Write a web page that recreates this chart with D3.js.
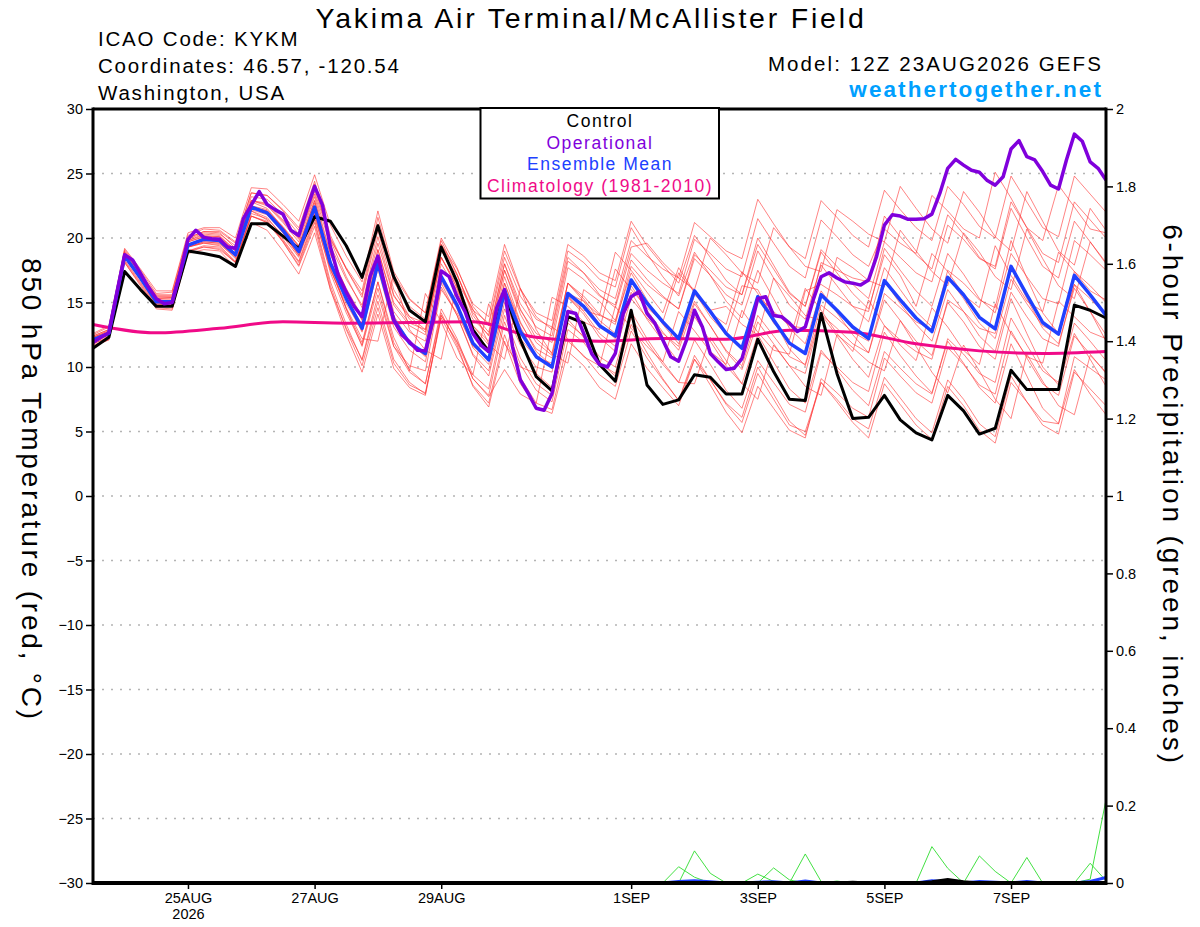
<!DOCTYPE html>
<html>
<head>
<meta charset="utf-8">
<script src="https://cdn.jsdelivr.net/npm/d3@7"></script>
<style>
body { margin: 0; background: #fff; }
text { font-family: "Liberation Sans", Arial, Helvetica, sans-serif; }
</style>
</head>
<body>
<div id="chart"></div>
<script>
const width = 1200
const height = 927
const plot = { left: 93, right: 1106, top: 109, bottom: 883 }

// forecast grid: 12Z 23AUG2026, 6-hourly (ensemble) and 3-hourly (operational)
const runStart = Date.UTC(2026, 7, 23, 12)
const runEnd = Date.UTC(2026, 8, 8, 12)

const xTickDates = ["2026-08-25", "2026-08-27", "2026-08-29", "2026-09-01", "2026-09-03", "2026-09-05", "2026-09-07"]
const xTickLabels = ["25AUG", "27AUG", "29AUG", "1SEP", "3SEP", "5SEP", "7SEP"]
const tempTicks = [-30, -25, -20, -15, -10, -5, 0, 5, 10, 15, 20, 25, 30]
const gridTicks = [-25, -20, -15, -10, -5, 0, 5, 10, 15, 20, 25]
const precipTicks = [0, 0.2, 0.4, 0.6, 0.8, 1, 1.2, 1.4, 1.6, 1.8, 2]
const precipTickLabels = ["0", "0.2", "0.4", "0.6", "0.8", "1", "1.2", "1.4", "1.6", "1.8", "2"]

const control = [11.45,12.3,17.4,16.0,14.7,14.7,19.0,18.8,18.55,17.8, 21.1,21.1,20.15,19.2,21.65,21.3,19.4,16.95,20.95,17.0, 14.4,13.5,19.3,16.6,12.9,11.2,15.85,12.1,9.25,8.15, 13.9,13.4,10.2,8.9,14.4,8.6,7.1,7.45,9.4,9.2, 7.9,7.9,12.15,9.65,7.5,7.4,14.15,9.5,6.0,6.1, 7.8,5.9,4.9,4.35,7.8,6.6,4.8,5.25,9.75,8.25, 8.25,8.25,14.8,14.4,13.8]

const ensembleMean = [12.1,12.6,18.6,16.9,15.05,15.05,19.45,19.9,19.8,18.7, 22.4,21.95,20.6,18.95,22.4,18.05,15.3,13.0,18.05,13.65, 11.85,11.05,17.0,14.8,11.85,10.55,15.95,12.75,10.8,10.0, 15.7,14.7,13.2,12.4,16.75,14.95,13.5,12.2,15.9,14.3, 12.6,11.45,15.45,13.65,11.85,11.05,15.6,14.4,13.1,12.2, 16.7,15.2,13.8,12.75,16.95,15.6,13.85,12.95,17.8,15.6, 13.45,12.55,17.1,15.6,14.0]

// operational run, 3-hourly
const operational = [11.9,12.3,12.65,15.7,18.7,18.3,17.25,16.2,15.3,14.9, 15.0,17.25,19.9,20.6,20.05,19.95,19.9,19.3,19.2,21.5, 22.55,23.6,22.6,22.2,21.85,20.6,20.2,22.2,24.0,22.55, 19.3,17.1,15.8,14.7,13.9,17.0,18.6,16.0,13.65,12.5, 11.95,11.3,11.25,13.65,17.45,17.0,15.45,14.3,12.6,11.7, 11.2,14.55,16.0,11.6,9.0,7.95,6.8,6.65,7.95,11.3, 14.3,14.15,12.6,11.05,10.2,10.0,11.05,14.15,15.45,15.85, 14.15,13.4,12.1,10.8,10.45,12.1,14.4,13.1,11.05,10.4, 9.8,9.9,10.65,12.85,15.3,15.45,14.0,13.9,13.4,12.75, 13.1,15.2,17.0,17.3,16.9,16.6,16.5,16.35,16.75,18.55, 21.0,21.8,21.7,21.45,21.45,21.5,21.85,23.45,25.4,26.1, 25.65,25.25,25.1,24.45,24.1,24.75,26.9,27.55,26.3,26.05, 25.15,24.1,23.8,26.05,28.05,27.5,25.9,25.4,24.5]

// climatology, daily at 12Z
const climatology = [13.3,12.65,13.0,13.5,13.4,13.45,13.5,12.3,12.0,12.2,12.15,12.85,12.7,11.8,11.25,11.05,11.2]

const member01 = [12.3,12.8,18.9,17.2,15.5,15.5,19.9,20.4,20.3,19.4, 23.2,23.0,21.8,20.3,23.9,20.0,17.6,15.6,21.1,16.6, 14.7,13.7,19.5,17.2,14.2,12.7,18.0,14.9,13.1,12.4, 18.2,17.3,16.0,15.3,19.8,18.6,17.6,16.9,21.2,20.1, 19.0,18.4,23.0,21.1,19.3,18.4,22.9,21.6,20.2,19.3, 23.7,22.2,20.8,19.8,24.0,22.6,20.9,20.0,24.8,22.8, 20.8,20.1,24.8,23.4,22.0]
const member02 = [11.8,12.3,18.2,16.5,14.7,14.7,19.0,19.4,19.3,18.1, 21.7,21.2,19.8,18.1,21.4,16.6,13.3,10.5,15.1,10.6, 8.8,7.9,13.8,11.5,8.6,7.2,12.5,9.2,7.2,6.7, 12.0,10.9,9.4,8.5,12.8,10.7,9.0,7.4,10.9,9.0, 7.1,5.7,9.5,7.5,5.5,5.0,8.8,7.5,6.0,5.2, 9.2,7.6,6.0,4.9,9.0,7.5,5.6,4.6,9.3,7.3, 5.5,4.8,9.6,8.3,7.0]
const member03 = [12.6,13.2,19.2,17.6,15.9,15.9,20.4,20.8,20.8,20.0, 23.9,23.8,22.6,21.3,24.9,21.0,18.6,16.6,22.1,17.4, 15.3,14.2,19.8,17.2,14.0,12.4,17.5,14.4,12.6,11.9, 17.7,16.8,15.5,14.8,19.3,19.6,18.1,16.9,16.0,20.0, 18.7,17.3,16.5,20.8,19.3,17.8,17.4,22.2,21.3,20.3, 19.7,24.0,22.3,20.7,19.6,23.6,22.0,20.1,19.0,23.6, 21.3,19.0,17.9,22.3,20.6]
const member04 = [11.9,12.5,18.5,16.9,15.2,15.2,19.7,20.1,20.1,18.7, 22.1,21.4,19.7,17.8,20.9,16.0,12.5,9.6,14.1,9.9, 8.4,7.8,14.0,12.0,9.4,8.3,14.0,10.7,8.7,7.8, 13.4,12.4,10.8,10.0,14.3,12.2,10.4,8.8,12.1,10.2, 8.2,6.8,10.5,8.8,7.1,6.5,11.1,10.0,8.8,8.1, 12.7,10.9,9.3,8.0,12.0,10.3,8.4,7.2,11.8,9.3, 6.8,5.6,9.8,7.9,6.3]
const member05 = [12.1,12.6,18.5,16.8,14.9,14.9,19.3,19.6,19.5,18.5, 22.4,22.1,20.8,19.4,22.9,18.7,16.1,13.9,19.1,15.0, 13.4,12.9,19.0,17.1,14.4,13.4,19.0,16.0,14.2,13.6, 19.5,18.6,17.3,16.7,21.3,19.4,17.9,16.5,20.2,18.5, 16.7,15.6,19.5,17.6,15.7,14.7,19.1,17.8,16.4,15.3, 19.7,18.5,17.3,16.6,21.0,19.9,18.4,17.8,22.8,20.8, 18.8,18.1,22.8,21.4,20.0]
const member06 = [12.4,12.9,19.0,17.3,15.6,15.6,20.0,20.5,20.4,19.2, 22.8,22.3,20.8,19.1,22.4,17.7,14.5,11.9,16.6,12.3, 9.7,15.7,13.5,10.7,9.4,14.9,11.8,10.0,9.5,15.4, 14.7,13.5,12.9,17.6,16.0,14.6,13.5,17.3,15.8,14.2, 13.3,17.4,15.7,13.4,12.1,16.1,14.4,12.6,11.2,15.2, 13.2,11.7,10.5,14.6,13.1,11.3,10.2,14.9,12.6,10.8, 10.3,15.1,13.9,12.7,12.2]
const member07 = [11.7,12.1,18.1,16.3,14.5,14.4,18.8,19.1,19.0,17.7, 21.2,20.6,19.0,17.2,20.4,16.0,13.0,10.6,15.6,11.6, 10.1,9.7,16.0,14.2,11.6,10.7,16.5,13.1,10.9,9.9, 15.4,14.3,12.6,11.6,15.8,13.7,12.0,10.4,13.9,12.0, 10.1,8.7,12.5,10.4,8.3,7.2,11.3,9.8,8.2,7.0, 11.2,9.9,8.7,7.9,12.2,11.0,9.5,8.8,13.8,11.7, 9.7,8.8,13.4,12.0,10.5]
const member08 = [12.2,12.7,18.7,17.0,15.3,15.3,19.7,20.1,20.0,19.0, 22.9,22.6,21.3,19.9,23.4,19.4,16.8,14.8,20.1,15.6, 13.7,12.7,18.5,16.2,13.2,11.7,17.0,13.5,11.2,10.1, 15.4,14.1,12.3,11.2,15.3,13.8,12.6,11.6,15.6,14.4, 14.7,13.3,12.5,16.9,15.5,14.0,13.6,18.5,17.7,16.7, 16.2,20.6,19.0,17.4,16.3,20.4,18.9,17.0,16.0,20.7, 18.4,16.3,15.3,19.7,18.1]
const member09 = [12.1,12.6,18.7,17.1,15.3,15.4,19.8,20.3,20.2,19.0, 22.5,22.0,20.4,18.6,21.9,17.8,15.3,13.3,18.6,14.0, 11.9,10.8,16.5,14.0,10.9,9.3,14.5,11.7,10.0,9.6, 15.7,15.1,14.0,13.5,18.3,16.8,15.5,14.5,18.4,17.1, 15.6,14.8,19.0,16.9,14.8,13.7,17.9,16.3,14.7,13.5, 17.7,16.0,14.3,13.1,17.0,15.3,13.4,12.2,16.8,14.9, 13.2,12.6,17.4,16.3,15.0]
const member10 = [12.0,12.5,18.5,16.8,14.9,14.9,19.3,19.7,19.6,18.6, 22.4,22.1,20.9,19.4,22.9,18.0,14.5,11.6,16.1,11.6, 9.6,8.7,14.5,12.2,9.1,7.7,9.8,7.9,7.2,13.1, 12.2,10.8,10.1,14.7,13.0,11.6,10.4,14.3,12.8,11.2, 10.2,14.4,12.7,11.3,11.0,15.9,16.4,15.6,14.7,14.3, 19.2,17.5,15.9,14.7,18.8,17.2,15.3,14.2,18.8,17.0, 15.3,14.9,19.8,18.7,17.5]
const member11 = [12.5,13.1,19.1,17.5,15.7,15.8,20.2,20.7,20.6,19.7, 23.5,23.3,22.1,20.6,24.2,19.8,17.0,14.6,19.6,15.5, 13.9,13.4,19.5,17.6,14.9,13.9,19.5,16.1,13.9,12.9, 18.5,17.3,15.6,14.6,18.8,17.5,16.5,15.7,19.9,18.8, 17.6,17.0,21.5,19.6,17.8,16.9,21.4,20.1,18.7,17.8, 20.7,19.6,18.8,23.3,22.1,20.7,20.0,25.1,23.1,20.8, 19.8,24.1,22.4,20.7,20.4]
const member12 = [11.6,12.1,18.1,16.4,14.6,14.5,18.9,19.3,19.2,18.1, 21.7,21.3,19.9,18.2,21.6,17.5,14.9,12.8,18.1,13.6, 11.8,10.9,16.7,14.5,11.5,10.2,15.5,11.9,9.5,8.4, 13.7,12.3,10.4,9.3,13.3,11.1,9.1,7.4,10.6,8.6, 6.5,4.9,8.5,6.8,5.1,4.5,9.1,8.0,6.8,6.1, 10.7,9.3,8.0,7.2,11.5,10.2,8.6,7.9,12.8,10.7, 8.7,7.8,12.4,11.0,9.5]
const member13 = [12.3,12.8,18.7,17.0,15.2,15.1,19.5,19.8,19.7,18.6, 22.2,21.8,20.4,18.7,22.1,17.6,14.6,12.2,12.0,17.2, 12.9,11.3,10.6,16.6,14.5,11.8,10.6,16.1,12.9,11.0, 10.3,16.0,15.1,13.6,17.3,15.2,13.3,11.8,15.1,13.2, 11.2,9.8,13.5,11.8,10.1,9.5,14.1,13.0,11.8,11.1, 15.7,14.6,13.5,12.9,17.5,16.5,15.2,14.6,19.8,16.9, 14.2,12.6,16.4,14.3,12.0]
const member14 = [11.9,12.4,18.5,16.8,15.0,15.1,19.5,20.0,19.9,19.0, 22.9,22.7,21.4,20.0,23.6,19.9,17.7,15.9,21.6,17.1, 15.2,14.2,20.0,17.7,14.7,13.2,18.5,15.5,13.7,13.1, 19.0,18.1,16.8,16.2,20.8,18.8,17.0,15.5,18.9,17.1, 15.1,13.8,17.5,15.3,13.0,11.8,15.9,14.2,12.5,11.1, 15.2,13.6,12.0,10.9,15.0,13.5,11.6,10.6,15.3,12.6, 10.0,8.6,12.6,10.6,8.5]
const member15 = [12.2,12.6,18.6,16.8,15.0,14.9,19.3,19.6,19.4,18.2, 21.7,21.2,19.7,17.9,21.2,16.3,12.9,10.1,14.6,10.3, 8.6,8.0,14.0,11.9,9.1,7.8,13.5,10.2,8.2,7.3, 12.9,11.9,10.3,9.5,13.8,11.9,10.2,8.8,8.7,12.3, 10.5,8.7,7.5,11.7,10.1,8.5,7.8,12.5,11.5,10.4, 9.7,13.6,11.6,9.6,8.0,11.7,9.7,7.5,6.0,11.0, 8.9,7.0,6.3,10.9,9.6]
const member16 = [12.4,12.9,18.9,17.2,15.4,15.4,19.8,20.2,20.1,19.1, 22.9,22.5,21.2,19.7,23.2,18.8,16.0,13.6,18.6,14.3, 12.7,12.0,18.0,15.9,13.2,12.0,17.5,14.1,11.9,10.9, 16.5,15.3,13.6,12.6,16.8,15.0,13.5,12.2,15.9,14.3, 12.6,11.5,15.5,14.3,13.2,13.0,18.1,17.5,16.9,16.6, 21.7,20.1,18.7,17.6,21.8,20.3,18.5,17.6,22.3,20.0, 17.8,16.9,21.3,19.7,18.0]
const member17 = [11.8,12.3,18.3,16.6,14.8,14.9,19.3,19.7,19.6,18.4, 22.1,21.6,20.1,18.5,21.8,17.3,14.2,11.7,16.6,11.9, 9.8,8.7,14.2,11.7,8.5,6.9,12.0,8.7,6.9,6.4, 11.2,10.1,8.4,7.5,11.8,9.9,8.4,7.0,10.6,9.0, 7.2,6.1,10.0,7.9,5.8,4.7,8.8,7.3,5.7,4.5, 8.7,7.1,5.5,4.4,8.5,7.0,5.1,4.1,8.8,7.3, 5.8,5.6,10.8,9.9,9.0]
const member18 = [12.1,12.7,18.8,17.2,15.5,15.5,20.0,20.5,20.5,19.6, 23.5,23.3,22.2,20.8,24.4,20.2,17.6,15.4,20.6,16.0, 13.9,12.9,18.5,16.1,12.9,11.4,16.5,13.4,11.4,10.7, 16.5,15.5,14.1,13.3,17.8,16.4,15.4,14.5,18.7,17.5, 16.2,15.6,20.0,17.9,15.8,14.7,18.9,17.3,15.7,14.5, 18.7,17.1,14.7,18.8,17.4,15.6,14.6,19.4,17.1,15.1, 14.3,18.9,17.4,15.9,15.2]
const member19 = [12.3,12.7,18.6,16.8,14.8,14.7,19.0,19.3,19.1,18.1, 21.9,21.5,20.2,18.7,22.2,18.2,15.7,13.7,19.1,14.8, 13.2,12.5,18.5,16.4,13.7,12.5,18.0,14.5,12.2,11.1, 16.5,15.1,13.3,12.2,16.3,14.4,12.7,11.3,14.9,13.2, 11.3,10.1,14.0,12.4,10.8,10.2,14.8,13.8,12.7,12.0, 16.7,14.9,13.3,12.0,16.0,14.3,12.4,11.2,15.8,13.9, 12.2,11.6,16.4,15.3,14.0]
const member20 = [12.0,12.5,18.5,16.9,15.1,15.1,19.5,19.9,19.8,18.8, 22.5,22.2,20.8,19.3,22.7,18.2,15.2,12.7,17.6,13.1, 11.3,10.4,16.2,14.0,11.0,9.7,15.0,12.2,10.7,10.3, 15.5,14.4,14.0,18.9,17.5,15.8,14.2,17.7,15.8,13.9, 12.5,16.3,16.0,13.7,11.4,10.1,14.1,12.4,10.6,9.2, 13.2,12.1,11.2,10.6,15.2,14.3,13.0,12.6,17.8,15.3, 13.0,11.8,16.1,14.3,12.5]
const members = [member01, member02, member03, member04, member05, member06, member07, member08, member09, member10,
    member11, member12, member13, member14, member15, member16, member17, member18, member19, member20]

// 6-hour precipitation (inches), members that had any rain
const precip01 = [0,0,0,0,0,0,0,0,0,0, 0,0,0,0,0,0,0,0,0,0, 0,0,0,0,0,0,0,0,0,0, 0,0,0,0,0,0,0,0.042,0.015,0, 0,0,0,0,0,0,0,0,0,0, 0,0,0,0,0,0,0,0,0,0, 0,0,0,0,0]
const precip02 = [0,0,0,0,0,0,0,0,0,0, 0,0,0,0,0,0,0,0,0,0, 0,0,0,0,0,0,0,0,0,0, 0,0,0,0,0,0,0,0,0.083,0.025, 0,0,0.023,0.004,0,0,0,0,0,0, 0,0,0,0,0,0,0,0,0,0, 0,0,0,0,0]
const precip03 = [0,0,0,0,0,0,0,0,0,0, 0,0,0,0,0,0,0,0,0,0, 0,0,0,0,0,0,0,0,0,0, 0,0,0,0,0,0,0,0,0,0, 0,0,0,0.039,0.008,0,0,0,0,0, 0,0,0,0,0,0,0,0,0,0, 0,0,0,0,0]
const precip04 = [0,0,0,0,0,0,0,0,0,0, 0,0,0,0,0,0,0,0,0,0, 0,0,0,0,0,0,0,0,0,0, 0,0,0,0,0,0,0,0,0,0, 0,0,0,0,0,0.075,0.004,0,0,0, 0,0,0,0.094,0.038,0,0,0,0,0, 0,0,0,0,0]
const precip05 = [0,0,0,0,0,0,0,0,0,0, 0,0,0,0,0,0,0,0,0,0, 0,0,0,0,0,0,0,0,0,0, 0,0,0,0,0,0,0,0,0,0, 0,0,0,0,0,0,0,0.005,0,0, 0,0,0,0,0,0,0.070,0.030,0,0, 0,0,0,0,0]
const precip06 = [0,0,0,0,0,0,0,0,0,0, 0,0,0,0,0,0,0,0,0,0, 0,0,0,0,0,0,0,0,0,0, 0,0,0,0,0,0,0,0,0,0, 0,0,0,0,0,0,0,0,0,0, 0,0,0,0,0,0,0,0,0,0.066, 0,0,0,0.051,0.006]
const precip07 = [0,0,0,0,0,0,0,0,0,0, 0,0,0,0,0,0,0,0,0,0, 0,0,0,0,0,0,0,0,0,0, 0,0,0,0,0,0,0,0,0,0, 0,0,0,0,0,0,0,0,0,0, 0,0,0,0,0,0,0,0,0,0, 0,0,0,0.010,0.215]
const precipMembers = [precip01, precip02, precip03, precip04, precip05, precip06, precip07]
const precipMean = [0,0,0,0,0,0,0,0,0,0, 0,0,0,0,0,0,0,0,0,0, 0,0,0,0,0,0,0,0,0,0, 0,0,0,0,0,0,0,0.004,0.006,0.003, 0,0,0.002,0.003,0,0.005,0,0.001,0,0, 0,0,0,0.006,0.003,0,0.004,0.002,0,0.004, 0,0,0,0.004,0.014]
const precipControl = [0,0,0,0,0,0,0,0,0,0, 0,0,0,0,0,0,0,0,0,0, 0,0,0,0,0,0,0,0,0,0, 0,0,0,0,0,0,0,0,0,0, 0,0,0,0,0,0,0,0,0.002,0, 0,0,0,0.003,0.009,0.003,0,0,0,0, 0,0,0,0,0]

const svg = d3.select("div#chart").append("svg").attr("width", width).attr("height", height)
    .style("display", "block").style("background", "#fff")

const x = d3.scaleUtc().domain([runStart, runEnd]).range([plot.left, plot.right])
const y = d3.scaleLinear().domain([-30, 30]).range([plot.bottom, plot.top])
const yP = d3.scaleLinear().domain([0, 2]).range([plot.bottom, plot.top])

const step6 = i => new Date(runStart + i * 6 * 3600 * 1000)
const step3 = i => new Date(runStart + i * 3 * 3600 * 1000)
const step24 = i => new Date(runStart + i * 24 * 3600 * 1000)

const line6 = d3.line().x((d, i) => x(step6(i))).y(d => y(d))
const line3 = d3.line().x((d, i) => x(step3(i))).y(d => y(d))
const line24 = d3.line().x((d, i) => x(step24(i))).y(d => y(d)).curve(d3.curveMonotoneX)
const lineP = d3.line().x((d, i) => x(step6(i))).y(d => yP(d))

// grid
const gridGroup = svg.append("g").attr("id", "gridGroup")
gridGroup.selectAll("line").data(gridTicks).enter().append("line")
    .attr("x1", plot.left).attr("x2", plot.right)
    .attr("y1", d => y(d)).attr("y2", d => y(d))
    .attr("stroke", "#b4b4b4").attr("stroke-width", 1.4).attr("stroke-dasharray", "2,7")

const elementGroup = svg.append("g").attr("id", "elementGroup")

elementGroup.selectAll("path.member").data(members).enter().append("path")
    .attr("class", "member")
    .attr("d", d => line6(d))
    .attr("fill", "none").attr("stroke", "#ff3030").attr("stroke-opacity", 0.75).attr("stroke-width", 0.8)

elementGroup.selectAll("path.precip").data(precipMembers).enter().append("path")
    .attr("class", "precip")
    .attr("d", d => lineP(d))
    .attr("fill", "none").attr("stroke", "#2edc2e").attr("stroke-width", 0.9)

elementGroup.append("path").attr("d", lineP(precipMean))
    .attr("fill", "none").attr("stroke", "#2040ff").attr("stroke-width", 3)
elementGroup.append("path").attr("d", lineP(precipControl))
    .attr("fill", "none").attr("stroke", "#000").attr("stroke-width", 3)

elementGroup.append("path").attr("d", line24(climatology))
    .attr("fill", "none").attr("stroke", "#f00a88").attr("stroke-width", 3)
elementGroup.append("path").attr("d", line6(control))
    .attr("fill", "none").attr("stroke", "#000").attr("stroke-width", 3).attr("stroke-linejoin", "round")
elementGroup.append("path").attr("d", line6(ensembleMean))
    .attr("fill", "none").attr("stroke", "#2040ff").attr("stroke-width", 3.5).attr("stroke-linejoin", "round")
elementGroup.append("path").attr("d", line3(operational))
    .attr("fill", "none").attr("stroke", "#8000dc").attr("stroke-width", 3.5).attr("stroke-linejoin", "round")

// axes
const axisGroup = svg.append("g").attr("id", "axisGroup")
const yAxis = d3.axisLeft(y).tickValues(tempTicks).tickSize(7).tickPadding(3)
const yAxisGroup = axisGroup.append("g").attr("transform", `translate(${plot.left}, 0)`).call(yAxis)
const yPAxis = d3.axisRight(yP).tickValues(precipTicks).tickSize(7).tickPadding(3)
    .tickFormat((d, i) => precipTickLabels[i])
const yPAxisGroup = axisGroup.append("g").attr("transform", `translate(${plot.right}, 0)`).call(yPAxis)
const xAxis = d3.axisBottom(x).tickValues(xTickDates.map(d => new Date(d + "T00:00:00Z"))).tickSize(6).tickPadding(4)
    .tickFormat((d, i) => xTickLabels[i])
const xAxisGroup = axisGroup.append("g").attr("transform", `translate(0, ${plot.bottom})`).call(xAxis)

for (const g of [yAxisGroup, yPAxisGroup, xAxisGroup]) {
    g.select(".domain").remove()
    g.selectAll(".tick line").attr("stroke", "#000").attr("stroke-width", 1.5)
    g.selectAll(".tick text").attr("font-size", 14.5).attr("fill", "#000")
        .attr("font-family", '"Liberation Sans", Arial, sans-serif')
}
xAxisGroup.select(".tick text").append("tspan").attr("x", 0).attr("dy", "1.1em").text("2026")

// frame
const frame = svg.append("g").attr("id", "frame").attr("stroke", "#000")
frame.append("line").attr("x1", plot.left).attr("x2", plot.left).attr("y1", plot.top - 1.5).attr("y2", plot.bottom + 2).attr("stroke-width", 3)
frame.append("line").attr("x1", plot.right).attr("x2", plot.right).attr("y1", plot.top - 1.5).attr("y2", plot.bottom + 2).attr("stroke-width", 3)
frame.append("line").attr("x1", plot.left).attr("x2", plot.right).attr("y1", plot.top).attr("y2", plot.top).attr("stroke-width", 3)
frame.append("line").attr("x1", plot.left).attr("x2", plot.right).attr("y1", plot.bottom).attr("y2", plot.bottom).attr("stroke-width", 4)

// legend
const legend = svg.append("g").attr("id", "legend")
legend.append("rect").attr("x", 480.5).attr("y", 108).attr("width", 238.5).attr("height", 90.5)
    .attr("fill", "#fff").attr("stroke", "#000").attr("stroke-width", 2)
const legendItems = [["Control", "#000"], ["Operational", "#8000dc"], ["Ensemble Mean", "#2040ff"], ["Climatology (1981-2010)", "#f00a88"]]
legend.selectAll("text").data(legendItems).enter().append("text")
    .attr("x", 600).attr("y", (d, i) => 127 + i * 21.6)
    .attr("text-anchor", "middle").attr("font-size", 17.5).attr("letter-spacing", 1.5)
    .attr("fill", d => d[1]).text(d => d[0])

// titles
svg.append("text").attr("x", 591).attr("y", 28).attr("text-anchor", "middle").attr("font-size", 28.5)
    .attr("letter-spacing", 2.8).text("Yakima Air Terminal/McAllister Field")
const infoLines = ["ICAO Code: KYKM", "Coordinates: 46.57, -120.54", "Washington, USA"]
svg.selectAll("text.info").data(infoLines).enter().append("text").attr("class", "info")
    .attr("x", 98).attr("y", (d, i) => 46 + i * 26.8).attr("font-size", 20.5).attr("letter-spacing", 1.8).text(d => d)
svg.append("text").attr("x", 1103).attr("y", 71).attr("text-anchor", "end").attr("font-size", 20.5)
    .attr("letter-spacing", 2.1).text("Model: 12Z 23AUG2026 GEFS")
svg.append("text").attr("x", 1103).attr("y", 97).attr("text-anchor", "end").attr("font-size", 22.5)
    .attr("letter-spacing", 2.1).attr("font-weight", "bold").attr("fill", "#00a0ff").text("weathertogether.net")

svg.append("text").attr("transform", "translate(22, 490) rotate(90)").attr("text-anchor", "middle")
    .attr("font-size", 28).attr("letter-spacing", 2.8).text("850 hPa Temperature (red, °C)")
svg.append("text").attr("transform", "translate(1163, 495) rotate(90)").attr("text-anchor", "middle")
    .attr("font-size", 28).attr("letter-spacing", 2.9).text("6-hour Precipitation (green, inches)")
</script>
</body>
</html>
